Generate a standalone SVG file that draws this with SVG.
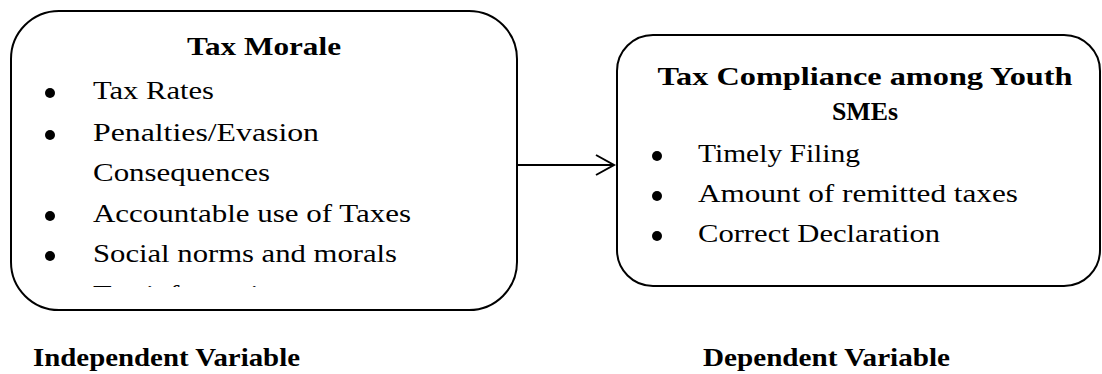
<svg xmlns="http://www.w3.org/2000/svg" width="1102" height="374" viewBox="0 0 1102 374">
  <defs>
    <style>
      .box { fill: #ffffff; stroke: #000000; stroke-width: 2; }
      .title { font-family: "Liberation Serif", "Times New Roman", serif; font-weight: bold; font-size: 26px; fill: #000; }
      .item { font-family: "Liberation Serif", "Times New Roman", serif; font-size: 26px; fill: #000; }
      .bullet { fill: #000; }
      .conn { fill: none; stroke: #000; stroke-width: 2; }
    </style>
    <clipPath id="clipLeft">
      <rect x="11" y="11" width="506" height="276"/>
    </clipPath>
  </defs>
  <rect x="0" y="0" width="1102" height="374" fill="#ffffff"/>

  <g id="connectors">
    <line class="conn" x1="517" y1="165" x2="613" y2="165"/>
    <polyline class="conn" points="596,155 614,165 596,175" stroke-width="2.5"/>
  </g>

  <g id="node-tax-morale">
    <rect class="box" x="11" y="11" width="506" height="299" rx="48" ry="48"/>
    <text class="title" x="264" y="55" text-anchor="middle" textLength="154" lengthAdjust="spacingAndGlyphs">Tax Morale</text>
    <circle class="bullet" cx="50" cy="93" r="5"/>
    <text class="item" x="93" y="99" textLength="121" lengthAdjust="spacingAndGlyphs">Tax Rates</text>
    <circle class="bullet" cx="50" cy="135" r="5"/>
    <text class="item" x="93" y="141" textLength="226" lengthAdjust="spacingAndGlyphs">Penalties/Evasion</text>
    <text class="item" x="93" y="181" textLength="177" lengthAdjust="spacingAndGlyphs">Consequences</text>
    <circle class="bullet" cx="50" cy="216" r="5"/>
    <text class="item" x="93" y="222" textLength="318" lengthAdjust="spacingAndGlyphs">Accountable use of Taxes</text>
    <circle class="bullet" cx="50" cy="256" r="5"/>
    <text class="item" x="93" y="262" textLength="304" lengthAdjust="spacingAndGlyphs">Social norms and morals</text>
    <text class="item" x="93" y="303" textLength="196" lengthAdjust="spacingAndGlyphs" clip-path="url(#clipLeft)">Tax information</text>
  </g>

  <g id="node-tax-compliance">
    <rect class="box" x="617" y="35" width="483" height="251" rx="36" ry="36"/>
    <text class="title" x="865" y="85" text-anchor="middle" textLength="415" lengthAdjust="spacingAndGlyphs">Tax Compliance among Youth</text>
    <text class="title" x="865" y="120" text-anchor="middle" textLength="66" lengthAdjust="spacingAndGlyphs">SMEs</text>
    <circle class="bullet" cx="657" cy="156" r="5"/>
    <text class="item" x="698" y="162" textLength="162" lengthAdjust="spacingAndGlyphs">Timely Filing</text>
    <circle class="bullet" cx="657" cy="196" r="5"/>
    <text class="item" x="698" y="202" textLength="320" lengthAdjust="spacingAndGlyphs">Amount of remitted taxes</text>
    <circle class="bullet" cx="657" cy="236" r="5"/>
    <text class="item" x="698" y="242" textLength="242" lengthAdjust="spacingAndGlyphs">Correct Declaration</text>
  </g>

  <g id="label-independent">
    <text class="title" x="33" y="366" textLength="267" lengthAdjust="spacingAndGlyphs">Independent Variable</text>
  </g>
  <g id="label-dependent">
    <text class="title" x="703" y="366" textLength="247" lengthAdjust="spacingAndGlyphs">Dependent Variable</text>
  </g>
</svg>
